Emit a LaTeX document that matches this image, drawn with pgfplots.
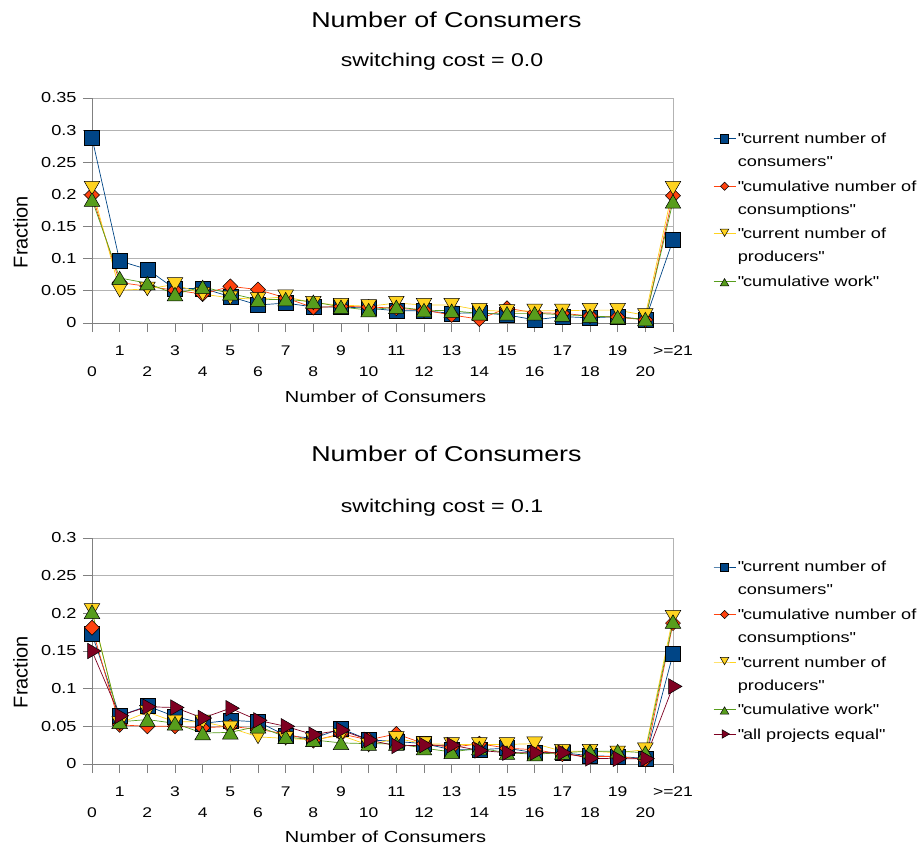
\documentclass[border=0pt]{standalone}
\usepackage{pgfplots}
\pgfplotsset{compat=1.18}
\usepackage{fontspec}
\setmainfont{Liberation Sans}[FakeStretch=1.25]
\newfontfamily\yfont{Liberation Sans}
\newcommand{\q}{\XeTeXglyph\XeTeXcharglyph"22\relax}
\definecolor{cA}{HTML}{004586}
\definecolor{cB}{HTML}{FF420E}
\definecolor{cC}{HTML}{FFD320}
\definecolor{cD}{HTML}{579D1C}
\definecolor{cE}{HTML}{7E0021}
\definecolor{gridgray}{HTML}{B3B3B3}
\definecolor{axgray}{HTML}{808080}
\newcommand{\dn}[1]{\raisebox{-21.6pt}{#1}}
\pgfplotsset{
  base/.style={
    scale only axis, width=581pt, xmin=0, xmax=21, ymin=0,
    xtick={0,...,21},
    xticklabels={\dn{0},1,\dn{2},3,\dn{4},5,\dn{6},7,\dn{8},9,\dn{10},11,\dn{12},13,\dn{14},15,\dn{16},17,\dn{18},19,\dn{20},{>=21}},
    xticklabel style={anchor=base, yshift=-23pt, font=\fontsize{14}{16}\selectfont},
    yticklabel style={font=\fontsize{14.5}{16}\selectfont, xshift=-3pt},
    axis line style={draw=gridgray, line width=0.8pt},
    ymajorgrids, grid style={draw=gridgray, line width=0.8pt},
    tick align=outside, major tick length=9pt,
    tick style={draw=axgray, line width=0.8pt},
    xtick pos=bottom, ytick pos=left,
    clip=false,
    legend style={at={(1,0.5)}, anchor=west, xshift=40pt, draw=none, fill=none,
      font=\fontsize{14.5}{23}\selectfont, cells={anchor=base west, align=left},
      row sep=8.5pt, inner sep=0pt},
    legend image code/.code={\draw[yshift=5pt,mark repeat=2,mark phase=2,##1,/tikz/every mark/.append style={scale=0.55}] plot coordinates {(0pt,0pt) (11pt,0pt) (22pt,0pt)};},
  },
  sA/.style={color=cA, line width=0.7pt, mark=square*, mark size=7.5pt, mark options={fill=cA, draw=black, line width=0.5pt}},
  sB/.style={color=cB, line width=0.7pt, mark=square*, mark size=5.3pt, mark options={rotate=45, fill=cB, draw=black, line width=0.5pt}},
  sC/.style={color=cC, line width=0.7pt, mark=triangle*, mark size=9pt, mark options={rotate=180, yshift=-2.2pt, fill=cC, draw=black, line width=0.5pt}},
  sD/.style={color=cD, line width=0.7pt, mark=triangle*, mark size=9pt, mark options={yshift=-2.2pt, fill=cD, draw=black, line width=0.5pt}},
  sE/.style={color=cE, line width=0.7pt, mark=triangle*, mark size=9pt, mark options={rotate=-90, fill=cE, draw=black, line width=0.5pt}},
}
\begin{document}
\begin{tikzpicture}[x=1pt,y=1pt]
\useasboundingbox (0,0) rectangle (922,-848);
% ---------- top ----------
\node[anchor=base, font=\fontsize{21.5}{24}\selectfont] at (446.5,-27.3) {Number of Consumers};
\node[anchor=base, font=\fontsize{18.5}{22}\selectfont] at (442,-66.7) {switching cost = 0.0};
\node[anchor=base, font=\fontsize{16}{19}\selectfont] at (385.5,-402.3) {Number of Consumers};
\node[rotate=90, font=\yfont\fontsize{20}{22}\selectfont] at (20.5,-232) {Fraction};
\begin{axis}[base, at={(92pt,-323pt)}, anchor=south west, height=225pt, ymax=0.35,
  ytick={0,0.05,0.1,0.15,0.2,0.25,0.3,0.35},
  yticklabels={0,0.05,0.1,0.15,0.2,0.25,0.3,0.35}]
\draw[axgray, line width=0.8pt] (rel axis cs:0,1) -- (rel axis cs:0,0) -- (rel axis cs:1,0);
\addplot[sA, forget plot] coordinates {(0,0.288) (1,0.0965) (2,0.0835) (3,0.053) (4,0.054) (5,0.041) (6,0.028) (7,0.031) (8,0.025) (9,0.025) (10,0.023) (11,0.019) (12,0.019) (13,0.015) (14,0.016) (15,0.0125) (16,0.005) (17,0.01) (18,0.008) (19,0.01) (20,0.005) (21,0.129)};
\addlegendimage{sA, yshift=23pt}
\addlegendentry{\q current number of\\consumers\q}
\addplot[sB, forget plot] coordinates {(0,0.199) (1,0.063) (2,0.057) (3,0.051) (4,0.045) (5,0.057) (6,0.052) (7,0.039) (8,0.024) (9,0.026) (10,0.025) (11,0.023) (12,0.02) (13,0.0125) (14,0.006) (15,0.023) (16,0.016) (17,0.015) (18,0.011) (19,0.009) (20,0.005) (21,0.198)};
\addlegendimage{sB, yshift=23pt}
\addlegendentry{\q cumulative number of\\consumptions\q}
\addplot[sC, forget plot] coordinates {(0,0.21) (1,0.051) (2,0.053) (3,0.06) (4,0.045) (5,0.039) (6,0.037) (7,0.041) (8,0.031) (9,0.028) (10,0.026) (11,0.031) (12,0.028) (13,0.028) (14,0.02) (15,0.018) (16,0.019) (17,0.019) (18,0.02) (19,0.02) (20,0.012) (21,0.21)};
\addlegendimage{sC, yshift=23pt}
\addlegendentry{\q current number of\\producers\q}
\addplot[sD] coordinates {(0,0.192) (1,0.07) (2,0.062) (3,0.045) (4,0.056) (5,0.046) (6,0.036) (7,0.037) (8,0.033) (9,0.025) (10,0.02) (11,0.025) (12,0.02) (13,0.019) (14,0.015) (15,0.015) (16,0.015) (17,0.013) (18,0.011) (19,0.009) (20,0.006) (21,0.189)};
\addlegendentry{\q cumulative work\q}
\end{axis}
% ---------- bottom ----------
\node[anchor=base, font=\fontsize{21.5}{24}\selectfont] at (446.5,-461.7) {Number of Consumers};
\node[anchor=base, font=\fontsize{18.5}{22}\selectfont] at (442,-512.7) {switching cost = 0.1};
\node[anchor=base, font=\fontsize{16}{19}\selectfont] at (385.5,-842.3) {Number of Consumers};
\node[rotate=90, font=\yfont\fontsize{20}{22}\selectfont] at (20.5,-672) {Fraction};
\begin{axis}[base, at={(92pt,-764pt)}, anchor=south west, height=226pt, ymax=0.3,
  ytick={0,0.05,0.1,0.15,0.2,0.25,0.3},
  yticklabels={0,0.05,0.1,0.15,0.2,0.25,0.3}]
\draw[axgray, line width=0.8pt] (rel axis cs:0,1) -- (rel axis cs:0,0) -- (rel axis cs:1,0);
\addplot[sA, forget plot] coordinates {(0,0.1725) (1,0.064) (2,0.077) (3,0.063) (4,0.054) (5,0.058) (6,0.056) (7,0.038) (8,0.034) (9,0.047) (10,0.032) (11,0.030) (12,0.027) (13,0.019) (14,0.019) (15,0.021) (16,0.015) (17,0.015) (18,0.011) (19,0.01) (20,0.0075) (21,0.146)};
\addlegendimage{sA, yshift=23pt}
\addlegendentry{\q current number of\\consumers\q}
\addplot[sB, forget plot] coordinates {(0,0.181) (1,0.052) (2,0.05) (3,0.05) (4,0.048) (5,0.05) (6,0.046) (7,0.04) (8,0.031) (9,0.04) (10,0.032) (11,0.04) (12,0.027) (13,0.022) (14,0.027) (15,0.021) (16,0.019) (17,0.013) (18,0.01) (19,0.01) (20,0.006) (21,0.187)};
\addlegendimage{sB, yshift=23pt}
\addlegendentry{\q cumulative number of\\consumptions\q}
\addplot[sC, forget plot] coordinates {(0,0.204) (1,0.054) (2,0.069) (3,0.056) (4,0.056) (5,0.048) (6,0.036) (7,0.034) (8,0.032) (9,0.038) (10,0.025) (11,0.034) (12,0.027) (13,0.026) (14,0.026) (15,0.026) (16,0.027) (17,0.017) (18,0.017) (19,0.015) (20,0.019) (21,0.195)};
\addlegendimage{sC, yshift=23pt}
\addlegendentry{\q current number of\\producers\q}
\addplot[sD] coordinates {(0,0.202) (1,0.056) (2,0.059) (3,0.054) (4,0.041) (5,0.042) (6,0.05) (7,0.036) (8,0.032) (9,0.028) (10,0.027) (11,0.027) (12,0.021) (13,0.016) (14,0.021) (15,0.015) (16,0.013) (17,0.015) (18,0.017) (19,0.017) (20,0.015) (21,0.189)};
\addlegendentry{\q cumulative work\q}
\addplot[sE] coordinates {(0,0.150) (1,0.064) (2,0.076) (3,0.075) (4,0.061) (5,0.074) (6,0.058) (7,0.05) (8,0.039) (9,0.045) (10,0.032) (11,0.024) (12,0.025) (13,0.025) (14,0.018) (15,0.015) (16,0.015) (17,0.015) (18,0.0075) (19,0.007) (20,0.007) (21,0.103)};
\addlegendentry{\q all projects equal\q}
\end{axis}
\end{tikzpicture}
\end{document}
